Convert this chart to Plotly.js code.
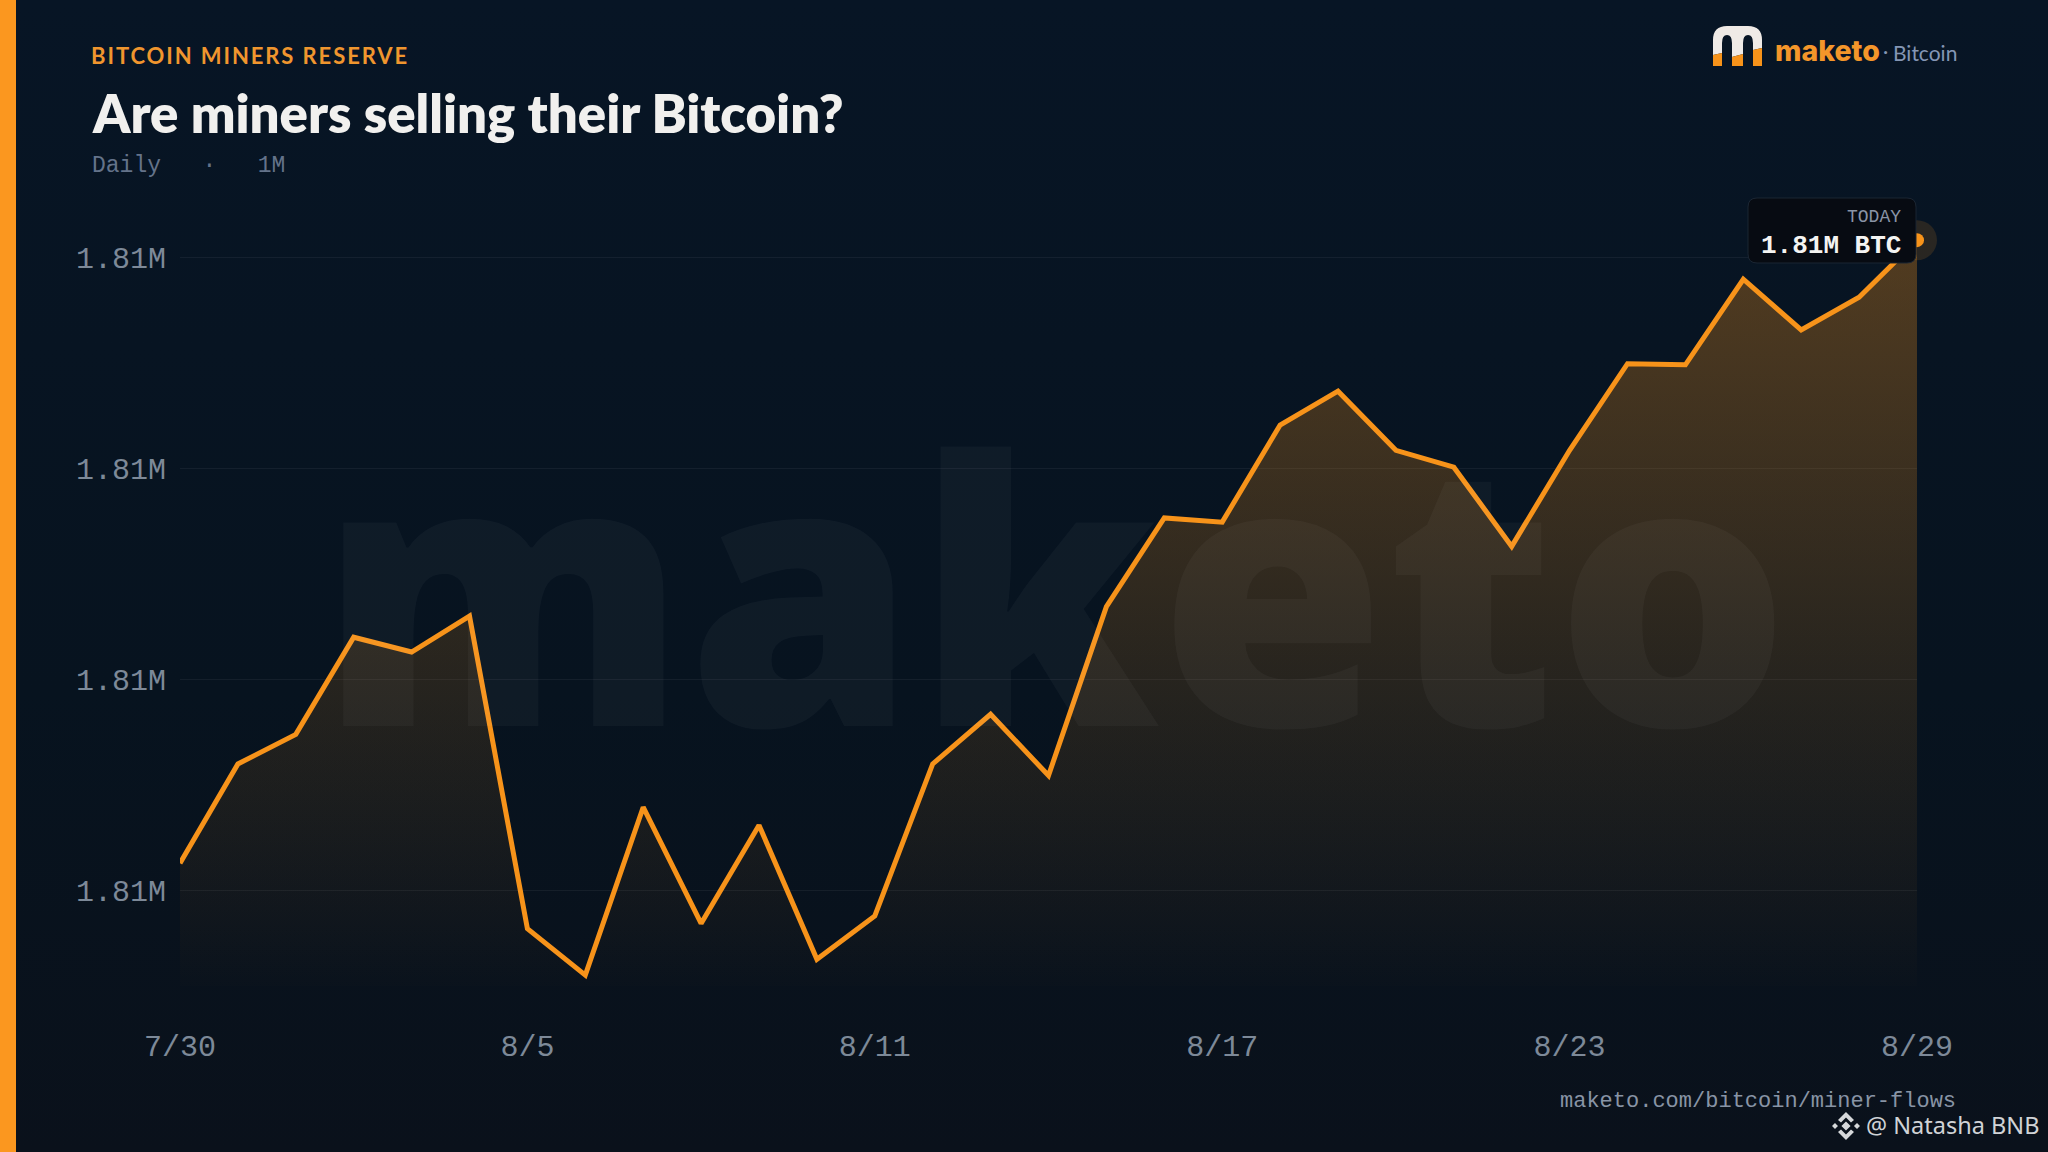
<!DOCTYPE html>
<html><head><meta charset="utf-8">
<script src="https://cdn.plot.ly/plotly-3.0.1.min.js"></script>
<style>html,body{margin:0;padding:0;background:#08131f}#c{width:2048px;height:1152px;background:linear-gradient(180deg,#071525 0%,#07131f 60%,#0a111b 100%)}
.annotation[data-index="1"] .annotation-text{letter-spacing:1.9px}</style>
</head><body><div id="c"></div>
<script>
const W=2048,H=1152;
const dates=['7/30','7/31','8/1','8/2','8/3','8/4','8/5','8/6','8/7','8/8','8/9','8/10','8/11','8/12','8/13','8/14','8/15','8/16','8/17','8/18','8/19','8/20','8/21','8/22','8/23','8/24','8/25','8/26','8/27','8/28','8/29'];
const reserve=[1806130,1806600,1806740,1807200,1807130,1807300,1805820,1805600,1806395,1805845,1806310,1805675,1805880,1806600,1806835,1806545,1807345,1807765,1807745,1808205,1808365,1808085,1808005,1807630,1808085,1808495,1808490,1808895,1808655,1808810,1809080];
const xTicks=['7/30','8/5','8/11','8/17','8/23','8/29'];
const yTicks=[1806000,1807000,1808000,1809000];
const m={l:180,r:131,t:200,b:166};
const px=x=>(x-m.l)/(W-m.l-m.r), py=y=>1-(y-m.t)/(H-m.t-m.b);
const P=s=>s.replace(/(-?[\d.]+),(-?[\d.]+)/g,(_,a,b)=>px(+a).toFixed(5)+','+py(+b).toFixed(5));
const shape=(d,fill,line)=>({type:'path',xref:'paper',yref:'paper',path:P(d),fillcolor:fill,line:line||{width:0},layer:'above'});
const MONO='"Liberation Mono",monospace', SANS='Lato,sans-serif', HEAD='Inter,sans-serif';
const text=(t,x,y,anchor,font,opts)=>Object.assign({text:t,xref:'paper',yref:'paper',x:px(x),y:py(y),xanchor:anchor,yanchor:'middle',showarrow:false,borderpad:0,font},opts||{});
const rr=(x0,y0,x1,y1,r)=>`M${x0+r},${y0} L${x1-r},${y0} Q${x1},${y0} ${x1},${y0+r} L${x1},${y1-r} Q${x1},${y1} ${x1-r},${y1} L${x0+r},${y1} Q${x0},${y1} ${x0},${y1-r} L${x0},${y0+r} Q${x0},${y0} ${x0+r},${y0} Z`;
const dm=(cx,cy,r)=>`M${cx},${cy-r} L${cx+r},${cy} L${cx},${cy+r} L${cx-r},${cy} Z`;
const bn=[1846,1126];
const shapes=[
 {type:'rect',xref:'paper',yref:'paper',x0:px(0),x1:px(16),y0:py(0),y1:py(H),fillcolor:'#fb971f',line:{width:0},layer:'above'},
 shape('M1713,55 L1713,40 Q1713,26 1727,26 L1748,26 Q1762,26 1762,40 L1762,48 L1753,50 L1753,43 Q1753,35 1748,35 Q1743,35 1743,43 L1743,54 L1732,57 L1732,43 Q1732,35 1727,35 Q1722,35 1722,43 L1722,53 Z','#efeae6'),
 shape('M1713,55 L1722,53 L1722,66 L1713,66 Z M1732,57 L1743,54 L1743,66 L1732,66 Z M1753,50 L1762,48 L1762,66 L1753,66 Z','#f7931a'),
 shape(rr(1748,198,1916,263,9),'#070b12',{color:'#1b2633',width:1}),
 shape(dm(bn[0],bn[1],4.6)+' '+dm(bn[0]-11,bn[1],3)+' '+dm(bn[0]+11,bn[1],3),'#d6d8da'),
 shape(`M${bn[0]},${bn[1]-14} L${bn[0]+8},${bn[1]-6} L${bn[0]+5},${bn[1]-3.5} L${bn[0]},${bn[1]-8.5} L${bn[0]-5},${bn[1]-3.5} L${bn[0]-8},${bn[1]-6} Z M${bn[0]},${bn[1]+14} L${bn[0]+8},${bn[1]+6} L${bn[0]+5},${bn[1]+3.5} L${bn[0]},${bn[1]+8.5} L${bn[0]-5},${bn[1]+3.5} L${bn[0]-8},${bn[1]+6} Z`,'#d6d8da')
];
const annotations=[
 text('maketo',1054,583,'center',{family:'"Open Sans",sans-serif',size:368,weight:800,color:'rgba(255,255,255,0.035)'}),
 text('BITCOIN MINERS RESERVE',111,56,'left',{family:SANS,size:22,weight:700,color:'#f0962e'}),
 text('Are miners selling their Bitcoin?',91,112,'left',{family:SANS,size:52.7,weight:800,color:'#f1f0ee'}),
 text('Daily\u00A0\u00A0\u00A0·\u00A0\u00A0\u00A01M',91,166,'left',{family:MONO,size:23,color:'#64738a'}),
 text('maketo',1774,50,'left',{family:HEAD,size:28.5,weight:800,color:'#f4962a'}),
 text('·',1885,50,'center',{family:SANS,size:20,color:'#8496b4'}),
 text('Bitcoin',1892,53,'left',{family:SANS,size:21,color:'#8496b4'}),
 text('TODAY',1902,217,'right',{family:MONO,size:18,color:'#8a94a6'}),
 text('1.81M BTC',1902,246,'right',{family:MONO,size:26,weight:700,color:'#f4f4f2'}),
 text('maketo.com/bitcoin/miner-flows',1957,1101,'right',{family:MONO,size:22,color:'#8894a5'}),
 text('@ Natasha BNB',2040,1125,'right',{family:'"Noto Sans",sans-serif',size:23.5,color:'#d0d3d6'})
];
const traces=[
 {x:dates,y:reserve,type:'scatter',mode:'lines',line:{color:'#f7931a',width:5,shape:'linear'},fill:'tozeroy',
  fillgradient:{type:'vertical',start:1809270,stop:1805480,colorscale:[[0,'rgba(247,147,26,0.33)'],[1,'rgba(247,147,26,0)']]},hoverinfo:'skip'},
 {x:[dates[30]],y:[reserve[30]],type:'scatter',mode:'markers',marker:{size:40,color:'rgba(247,147,26,0.14)'},cliponaxis:false,hoverinfo:'skip'},
 {x:[dates[30]],y:[reserve[30]],type:'scatter',mode:'markers',marker:{size:14,color:'#f7931a'},cliponaxis:false,hoverinfo:'skip'}
];
const layout={width:W,height:H,margin:m,paper_bgcolor:'rgba(0,0,0,0)',plot_bgcolor:'rgba(0,0,0,0)',showlegend:false,
 xaxis:{type:'category',categoryorder:'array',categoryarray:dates,range:[0,30],tickmode:'array',tickvals:xTicks,ticktext:xTicks,showgrid:false,zeroline:false,showline:false,ticks:'outside',ticklen:33,tickcolor:'rgba(0,0,0,0)',tickfont:{family:MONO,size:30,color:'#7d8998'}},
 yaxis:{range:[1805548.6,1809270.2],tickmode:'array',tickvals:yTicks,tickformat:'.3s',showgrid:true,gridcolor:'rgba(255,255,255,0.055)',gridwidth:1,zeroline:false,showline:false,ticks:'outside',ticklen:7,ticklabelshift:-1.5,tickcolor:'rgba(0,0,0,0)',tickfont:{family:MONO,size:30,color:'#7d8998'}},
 shapes,annotations};
Plotly.newPlot('c',traces,layout,{displayModeBar:false,staticPlot:true});
</script></body></html>
